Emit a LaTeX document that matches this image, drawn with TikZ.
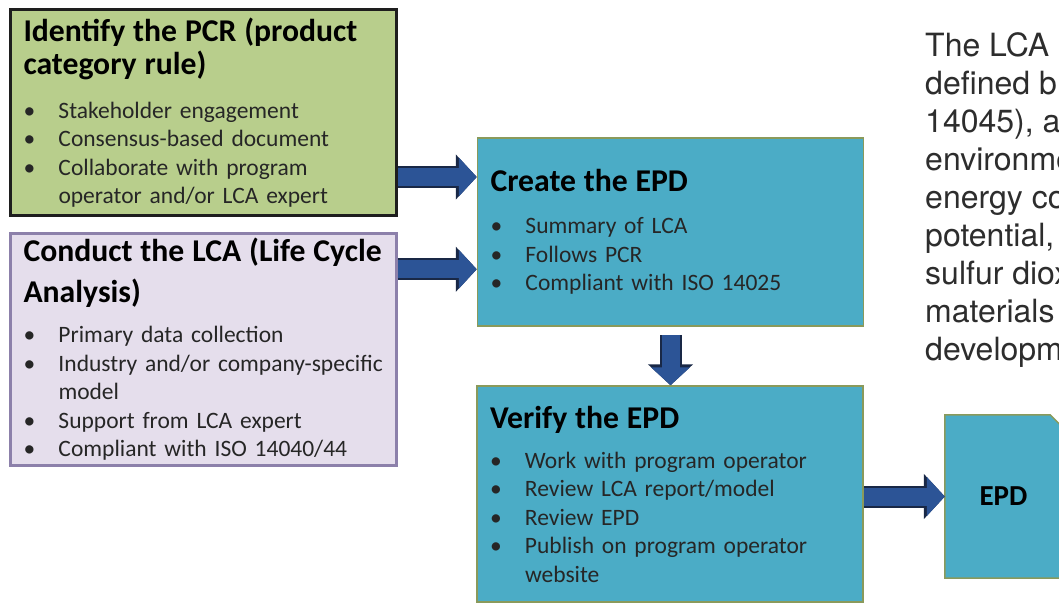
\documentclass[tikz,border=0pt]{standalone}
\usepackage{fontspec}
\setmainfont{Carlito}
\newfontfamily\notefont{TeX Gyre Heros}
\usetikzlibrary{arrows.meta,backgrounds}

\definecolor{pcrgreen}{RGB}{184,206,140}
\definecolor{pcredge}{RGB}{30,30,30}
\definecolor{lcapurple}{RGB}{229,222,236}
\definecolor{lcaedge}{RGB}{140,128,170}
\definecolor{epdteal}{RGB}{75,172,198}
\definecolor{epdedge}{RGB}{138,154,91}
\definecolor{arrowblue}{RGB}{44,84,150}
\definecolor{arrowedge}{RGB}{25,40,70}
\definecolor{bodytext}{RGB}{38,38,38}
\definecolor{notetext}{RGB}{45,45,45}

\newcommand{\hd}[1]{{\fontsize{31.7}{34}\selectfont\bfseries\color{black}#1}}
\newcommand{\blt}{\makebox[35pt][l]{\textbullet}}
\newcommand{\itemgap}{\hspace*{35pt}}

\begin{document}
\begin{tikzpicture}[x=1pt, y=-1pt,
  stepbox/.style={rectangle, align=left, text width=360pt, inner xsep=13pt, inner ysep=0pt,
    font=\fontsize{23.5}{28.5}\selectfont, text=bodytext,
    execute at begin node={\lineskiplimit=-100pt}},
  pcrbox/.style={stepbox, fill=pcrgreen, draw=pcredge, line width=3pt},
  lcabox/.style={stepbox, fill=lcapurple, draw=lcaedge, line width=2.5pt},
  epdbox/.style={stepbox, fill=epdteal, draw=epdedge, line width=1.5pt},
  docbox/.style={minimum width=117pt, minimum height=163pt, inner sep=0pt,
    font=\fontsize{29}{30}\selectfont\bfseries},
  note/.style={anchor=north west, inner sep=0pt, align=left, text=notetext,
    font=\notefont\fontsize{32}{38}\selectfont,
    execute at begin node={\lineskiplimit=-100pt}},
  fatarrow/.style={draw=arrowblue, line width=18pt, -{Triangle[length=18pt,width=38pt]},
    preaction={draw=arrowedge, line width=22pt, -{Triangle[length=21pt,width=44pt]}}}
]
\useasboundingbox (0,0) rectangle (1059,605);
\clip (0,0) rectangle (1059,605);

% Identify the PCR
\node[pcrbox, minimum height=206pt] (pcr) at (203.5,112.5) {\hd{Identify the PCR (product}\\[4.5pt]
  \hd{category rule)}\\[15.5pt]
  \blt Stakeholder engagement\\
  \blt Consensus-based document\\
  \blt Collaborate with program\\
  \itemgap operator and/or LCA expert};

% Conduct the LCA
\node[lcabox, minimum height=232pt] (lca) at (203.5,349.5) {\hd{Conduct the LCA (Life Cycle}\\[12.5pt]
  \hd{Analysis)}\\[11.5pt]
  \blt Primary data collection\\
  \blt Industry and/or company-specific\\
  \itemgap model\\
  \blt Support from LCA expert\\
  \blt Compliant with ISO 14040/44};

% Create the EPD
\node[epdbox, minimum height=188pt] (create) at (670.5,232) {\hd{Create the EPD}\\[13.5pt]
  \blt Summary of LCA\\
  \blt Follows PCR\\
  \blt Compliant with ISO 14025};

% Verify the EPD
\node[epdbox, minimum height=216pt] (verify) at (670,494) {\hd{Verify the EPD}\\[11.5pt]
  \blt Work with program operator\\
  \blt Review LCA report/model\\
  \blt Review EPD\\
  \blt Publish on program operator\\
  \itemgap website};

% EPD document
\node[docbox] (epd) at (1003.5,496.5) {EPD};
\begin{scope}[on background layer]
\filldraw[fill=epdteal, draw=epdedge, line width=1.5pt] (epd.south west) -- (epd.north west)
  -- ([xshift=-12pt]epd.north east) -- ([yshift=-12pt]epd.north east) -- (epd.south east) -- cycle;
\end{scope}

% Side text
\node[note] (note) at (925,32) {The LCA\\defined b\\14045), a\\environme\\energy co\\potential,\\sulfur diox\\materials\\developm};

% Arrows
\coordinate (a1) at ([yshift=40pt]pcr.south east);
\coordinate (a2) at ([yshift=-37pt]lca.north east);
\draw[fatarrow] (a1) -- (create.west |- a1);
\draw[fatarrow] (a2) -- (create.west |- a2);
\draw[fatarrow, shorten <=8pt] (create.south) -- (create.south |- verify.north);
\draw[fatarrow] (verify.east |- epd.west) -- (epd.west);
\end{tikzpicture}
\end{document}
